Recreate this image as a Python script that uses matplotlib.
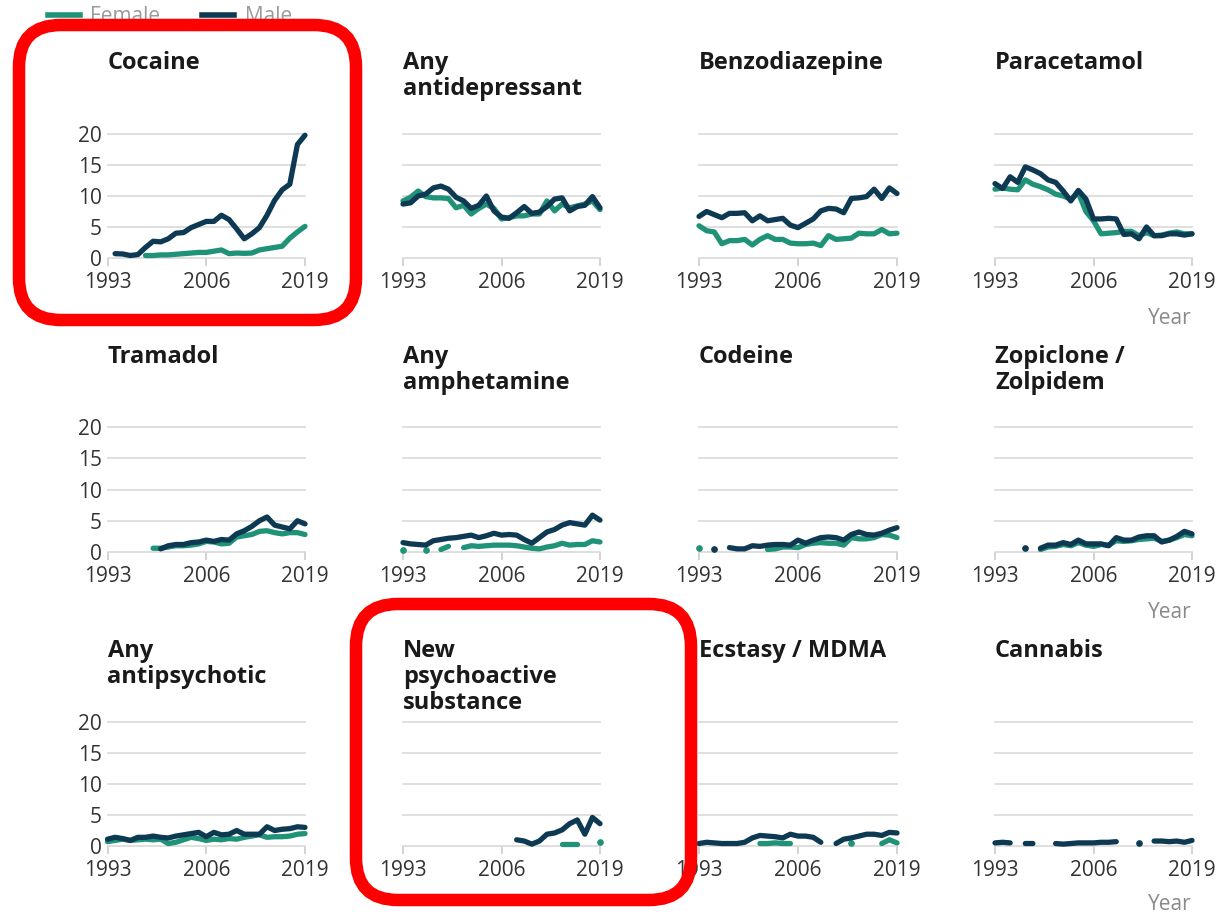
import numpy as np
import matplotlib.pyplot as plt
from matplotlib.lines import Line2D
from matplotlib.patches import FancyBboxPatch

plt.rcParams['font.family'] = ['Open Sans', 'DejaVu Sans']

nan = np.nan
years = np.arange(1993, 2020)


def from_year(start, values):
    # pad a series that starts after 1993 with missing values
    return [nan] * (start - 1993) + values


cocaine_female = from_year(1998, [0.4, 0.4, 0.5, 0.5, 0.6, 0.7, 0.8, 0.9, 0.9, 1.1, 1.3,
                                  0.7, 0.8, 0.75, 0.8, 1.3, 1.5, 1.7, 1.9, 3.2, 4.2, 5.1])
cocaine_male = from_year(1994, [0.7, 0.65, 0.4, 0.55, 1.7, 2.7, 2.6, 3.1, 4.0, 4.1, 4.9, 5.4, 5.9,
                                5.9, 6.9, 6.2, 4.7, 3.1, 3.9, 4.9, 6.9, 9.3, 11.0, 11.9, 18.3, 19.8])

antidep_female = [9.2, 9.8, 10.8, 9.9, 9.7, 9.7, 9.6, 8.1, 8.5, 7.1, 8.0, 8.7, 8.0, 6.3,
                  6.5, 6.8, 6.8, 7.1, 7.1, 9.2, 7.6, 8.7, 8.1, 8.4, 8.7, 9.2, 7.8]
antidep_male = [8.7, 8.9, 10.0, 10.3, 11.3, 11.6, 11.1, 9.8, 9.2, 8.0, 8.5, 10.0, 7.6, 6.6,
                6.4, 7.3, 8.3, 7.2, 7.4, 8.3, 9.5, 9.7, 7.6, 8.3, 8.5, 9.9, 8.1]

benzo_female = [5.2, 4.4, 4.2, 2.3, 2.8, 2.8, 3.0, 2.1, 3.0, 3.6, 3.0, 3.0, 2.4, 2.3,
                2.3, 2.4, 2.0, 3.6, 3.0, 3.1, 3.2, 4.0, 3.9, 3.9, 4.6, 3.9, 4.0]
benzo_male = [6.7, 7.5, 7.0, 6.5, 7.2, 7.2, 7.3, 6.0, 6.8, 6.0, 6.2, 6.4, 5.3, 4.9,
              5.6, 6.3, 7.6, 8.0, 7.9, 7.3, 9.6, 9.7, 9.9, 11.1, 9.6, 11.3, 10.4]

para_female = [11.1, 11.3, 11.1, 11.0, 12.6, 11.9, 11.5, 11.0, 10.3, 10.0, 9.5, 10.5, 7.5, 6.0,
               3.9, 4.0, 4.1, 4.3, 4.3, 3.6, 4.1, 3.6, 3.7, 4.0, 4.2, 3.9, 3.9]
para_male = [12.0, 11.2, 13.1, 12.2, 14.7, 14.2, 13.6, 12.6, 12.2, 10.8, 9.2, 10.9, 9.5, 6.3,
             6.3, 6.4, 6.3, 3.8, 3.9, 3.1, 5.0, 3.6, 3.6, 3.9, 3.9, 3.7, 3.9]

tramadol_female = from_year(1999, [0.6, 0.6, 0.8, 1.0, 1.0, 1.1, 1.3, 1.7, 1.6, 1.3, 1.4,
                                   2.4, 2.6, 2.8, 3.3, 3.4, 3.1, 2.9, 3.1, 3.1, 2.8])
tramadol_male = from_year(2000, [0.5, 1.0, 1.2, 1.2, 1.5, 1.6, 1.9, 1.7, 2.0, 1.9,
                                 2.9, 3.4, 4.1, 5.0, 5.6, 4.3, 4.0, 3.7, 5.0, 4.5])

amph_female = [0.4, nan, nan, 0.4, nan, 0.4, 0.9, nan, 0.7, 1.0, 0.9, 1.0, 1.1, 1.1,
               1.1, 1.0, 0.8, 0.6, 0.5, 0.8, 1.0, 1.4, 1.1, 1.2, 1.2, 1.8, 1.6]
amph_male = [1.5, 1.3, 1.2, 1.1, 1.8, 2.0, 2.2, 2.3, 2.5, 2.7, 2.3, 2.6, 3.0, 2.7,
             2.8, 2.7, 2.0, 1.4, 2.3, 3.2, 3.6, 4.3, 4.7, 4.5, 4.3, 5.9, 5.1]

codeine_female = [0.7] + [nan] * 8 + [0.4, 0.5, 0.8, 0.8, 0.7, 1.2, 1.4, 1.5, 1.4,
                                      1.4, 1.1, 2.3, 2.1, 2.1, 2.3, 2.8, 2.7, 2.3]
codeine_male = [nan, nan, 0.5, nan, 0.7, 0.5, 0.5, 1.0, 0.9, 1.1, 1.2, 1.2, 1.1, 1.9,
                1.4, 1.9, 2.3, 2.4, 2.3, 1.9, 2.8, 3.2, 2.8, 2.7, 3.0, 3.5, 3.9]

zop_female = from_year(1999, [0.4, 0.8, 0.9, 1.2, 1.0, 1.5, 1.1, 0.9, 1.2, 1.1, 1.8,
                              1.7, 1.8, 2.0, 2.1, 2.2, 1.7, 1.9, 2.3, 2.8, 2.6])
zop_male = [nan, nan, nan, nan, 0.6, nan, 0.6, 1.1, 1.1, 1.5, 1.2, 1.9, 1.3, 1.3,
            1.3, 1.0, 2.3, 1.9, 1.9, 2.4, 2.6, 2.6, 1.6, 1.9, 2.5, 3.3, 2.9]

antipsy_female = [0.7, 0.9, 1.1, 0.9, 1.0, 1.1, 1.0, 1.1, 0.4, 0.6, 1.0, 1.4, 1.2, 0.9,
                  1.1, 1.0, 1.2, 1.1, 1.4, 1.6, 1.8, 1.4, 1.5, 1.5, 1.6, 1.9, 2.0]
antipsy_male = [1.1, 1.4, 1.2, 0.9, 1.4, 1.4, 1.6, 1.4, 1.3, 1.6, 1.8, 2.0, 2.2, 1.5,
                2.2, 1.8, 1.9, 2.5, 1.9, 1.9, 1.9, 3.1, 2.5, 2.7, 2.8, 3.1, 3.0]

nps_female = from_year(2014, [0.4, 0.4, 0.4, nan, nan, 0.6])
nps_male = from_year(2008, [1.0, 0.8, 0.3, 0.8, 1.9, 2.1, 2.6, 3.6, 4.2, 1.9, 4.6, 3.6])

ecstasy_female = from_year(2001, [0.4, 0.4, 0.5, 0.4, 0.4] + [nan] * 7
                           + [0.5, nan, nan, nan, 0.4, 1.0, 0.5])
ecstasy_male = [0.4, 0.6, 0.5, 0.4, 0.4, 0.4, 0.6, 1.3, 1.7, 1.6, 1.5, 1.3, 1.9, 1.6,
                1.6, 1.4, 0.6, nan, 0.4, 1.1, 1.3, 1.6, 1.9, 1.9, 1.7, 2.2, 2.1]

cannabis_female = [nan] * 27
cannabis_male = [0.5, 0.6, 0.5, nan, 0.4, 0.4, nan, nan, 0.4, 0.3, 0.4, 0.5, 0.5, 0.5,
                 0.6, 0.6, 0.7, nan, nan, 0.5, nan, 0.8, 0.8, 0.7, 0.8, 0.6, 0.9]

titles = ['Cocaine', 'Any\nantidepressant', 'Benzodiazepine', 'Paracetamol',
          'Tramadol', 'Any\namphetamine', 'Codeine', 'Zopiclone /\nZolpidem',
          'Any\nantipsychotic', 'New\npsychoactive\nsubstance', 'Ecstasy / MDMA', 'Cannabis']
female = [cocaine_female, antidep_female, benzo_female, para_female,
          tramadol_female, amph_female, codeine_female, zop_female,
          antipsy_female, nps_female, ecstasy_female, cannabis_female]
male = [cocaine_male, antidep_male, benzo_male, para_male,
        tramadol_male, amph_male, codeine_male, zop_male,
        antipsy_male, nps_male, ecstasy_male, cannabis_male]

FEMALE_C = '#1f9278'
MALE_C = '#0d3a52'
W, H = 1218, 918

# panel placement in pixels: x of 1993 / 2019, y of 20 / 0
cols_x = [(107.5, 305), (403, 600), (699, 897), (995, 1192)]
rows_y = [(134, 258), (427, 552), (722, 846)]
title_top = [51, 345, 639]
year_y = [318, 612, 905]

fig = plt.figure(figsize=(W / 100, H / 100), dpi=100)


def draw_series(ax, values, color):
    y = np.array(values, dtype=float)
    ax.plot(years, y, color=color, lw=3.8, solid_capstyle='round',
            solid_joinstyle='round', clip_on=False, zorder=3)
    ok = ~np.isnan(y)
    prev = np.r_[False, ok[:-1]]
    nxt = np.r_[ok[1:], False]
    lone = ok & ~prev & ~nxt
    ax.plot(years[lone], y[lone], 'o', color=color, ms=3.8, clip_on=False, zorder=3)


for i, title in enumerate(titles):
    r, c = divmod(i, 4)
    x0, x1 = cols_x[c]
    yt, yb = rows_y[r]
    ax = fig.add_axes([x0 / W, 1 - yb / H, (x1 - x0) / W, (yb - yt) / H])
    ax.set_xlim(1993, 2019)
    ax.set_ylim(0, 20)
    ax.set_xticks([1993, 2006, 2019])
    ax.set_yticks([0, 5, 10, 15, 20])
    ax.yaxis.grid(True, color='#d9d9d9', lw=1.2)
    for gl in ax.get_ygridlines():
        gl.set_clip_on(False)
    for s in ax.spines.values():
        s.set_visible(False)
    ax.tick_params(axis='x', length=6, width=1.2, color='#cccccc', labelsize=15,
                   labelcolor='#333333', pad=4)
    ax.tick_params(axis='y', length=0, labelsize=15, labelcolor='#333333', pad=4,
                   labelleft=(c == 0))
    ax.set_facecolor('none')
    draw_series(ax, female[i], FEMALE_C)
    draw_series(ax, male[i], MALE_C)

# overlay in pixel coordinates for titles, labels and highlight boxes
ov = fig.add_axes([0, 0, 1, 1], zorder=10)
ov.set_xlim(0, W)
ov.set_ylim(H, 0)
ov.axis('off')

for i, title in enumerate(titles):
    r, c = divmod(i, 4)
    ov.text(cols_x[c][0], title_top[r], title, ha='left', va='top', fontsize=17,
            fontweight='bold', color='#1a1a1a', linespacing=1.12)

for y in year_y:
    ov.text(1192, y, 'Year', ha='right', va='center', fontsize=15, color='#8a8a8a')

handles = [Line2D([], [], color=FEMALE_C, lw=4), Line2D([], [], color=MALE_C, lw=4)]
leg = fig.legend(handles, ['Female', 'Male'], loc='center left', ncol=2, frameon=False,
                 bbox_to_anchor=(33 / W, 1 - 17 / H), fontsize=15, handlelength=1.55,
                 columnspacing=2.0, handletextpad=0.5, borderpad=0.2)
for t in leg.get_texts():
    t.set_color('#9a9a9a')

for (bx, by, bw, bh) in [(19, 25, 337, 295), (356, 604, 335, 296)]:
    ov.add_patch(FancyBboxPatch((bx, by), bw, bh, boxstyle='round,pad=0,rounding_size=42',
                                fill=False, ec='#ff0000', lw=9, zorder=20))

fig.savefig('out.png', dpi=100)
